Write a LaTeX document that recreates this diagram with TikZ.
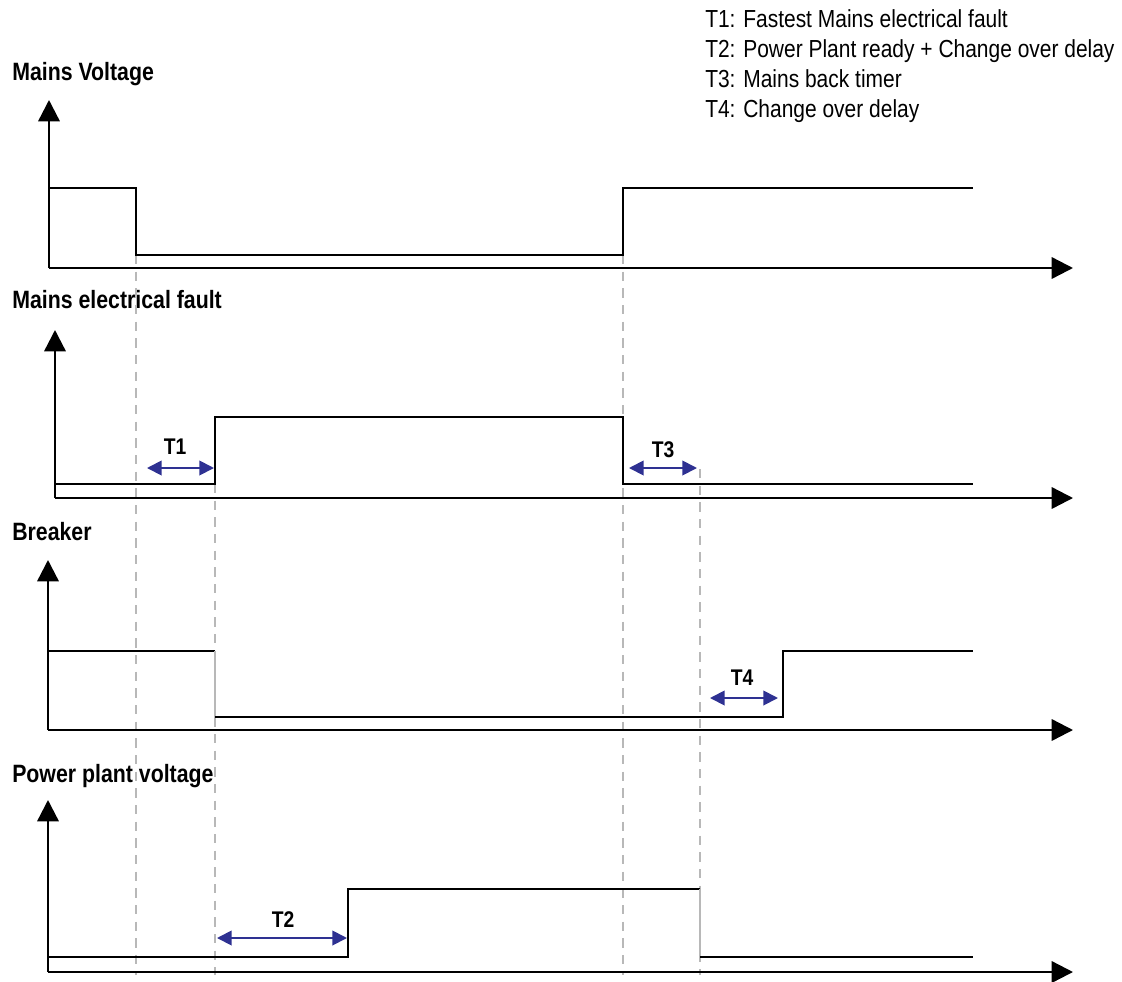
\documentclass[tikz,border=0pt]{standalone}
\usepackage{fontspec}
\setmainfont{Liberation Sans}[FakeStretch=0.85]
\usetikzlibrary{arrows.meta}
\definecolor{tick}{HTML}{2E3192}
\definecolor{guide}{HTML}{B8B8B8}

\begin{document}
\begin{tikzpicture}[
  x=0.75pt,
  y=-0.75pt,
  title/.style={anchor=base west, inner sep=0pt, font=\bfseries\fontsize{18.8}{22}\selectfont},
  legend/.style={anchor=base west, inner sep=0pt, font=\fontsize{18.5}{22}\selectfont},
  span/.style={anchor=base, inner sep=0pt, font=\bfseries\fontsize{17}{20}\selectfont},
  axis/.style={-{Triangle[length=16pt,width=16pt]}, line width=1.8pt},
  signal/.style={line width=1.6pt},
  guideline/.style={draw=guide, line width=1.5pt, dash pattern=on 7pt off 5.5pt},
  edge/.style={draw=guide, line width=1.5pt},
  delay/.style={{Triangle[length=11pt,width=11pt]}-{Triangle[length=11pt,width=11pt]}, line width=1.4pt, draw=tick}
]
  \useasboundingbox (0,0) rectangle (1122,982);

  % legend
  \node[legend] (leg1) at (705,27) {T1: Fastest Mains electrical fault};
  \node[legend] (leg2) at (705,57) {T2: Power Plant ready + Change over delay};
  \node[legend] (leg3) at (705,87) {T3: Mains back timer};
  \node[legend] (leg4) at (705,117) {T4: Change over delay};

  % titles
  \node[title] (mains) at (12,80) {Mains Voltage};
  \node[title] (fault) at (12,308) {Mains electrical fault};
  \node[title] (breaker) at (12,540) {Breaker};
  \node[title] (plant) at (12,782) {Power plant voltage};

  % guides
  \draw[guideline] (136,255) -- (136,975);
  \draw[guideline] (215,484) -- (215,975);
  \draw[guideline] (623,255) -- (623,975);
  \draw[guideline] (700,469) -- (700,975);

  % axes
  \coordinate (o1) at (49,268);
  \coordinate (o2) at (55,498);
  \coordinate (o3) at (48,730);
  \coordinate (o4) at (48,972);
  \draw[axis] (o1) -- (49,100);
  \draw[axis] (o1) -- (1073,268);
  \draw[axis] (o2) -- (55,330);
  \draw[axis] (o2) -- (1073,498);
  \draw[axis] (o3) -- (48,560);
  \draw[axis] (o3) -- (1073,730);
  \draw[axis] (o4) -- (48,800);
  \draw[axis] (o4) -- (1073,972);

  % signals
  \draw[signal] (49,188) -- (136,188) -- (136,255) -- (623,255) -- (623,188) -- (973,188);
  \draw[signal] (55,484) -- (215,484) -- (215,417) -- (623,417) -- (623,484) -- (973,484);
  \draw[signal] (48,651) -- (215,651);
  \draw[edge] (215,651) -- (215,717);
  \draw[signal] (215,717) -- (783,717) -- (783,651) -- (973,651);
  \draw[signal] (48,957) -- (348,957) -- (348,889) -- (700,889);
  \draw[edge] (700,889) -- (700,957);
  \draw[signal] (700,957) -- (973,957);

  % delays
  \coordinate (t1a) at (147,468);
  \coordinate (t1b) at (214,468);
  \coordinate (t3a) at (629,468);
  \coordinate (t3b) at (697,468);
  \coordinate (t4a) at (710,698);
  \coordinate (t4b) at (778,698);
  \coordinate (t2a) at (217,938);
  \coordinate (t2b) at (347,938);
  \draw[delay] (t1a) -- (t1b);
  \draw[delay] (t3a) -- (t3b);
  \draw[delay] (t4a) -- (t4b);
  \draw[delay] (t2a) -- (t2b);
  \node[span] (t1) at (175,454) {T1};
  \node[span] (t3) at (663,457) {T3};
  \node[span] (t4) at (742,685) {T4};
  \node[span] (t2) at (283,927) {T2};
\end{tikzpicture}
\end{document}
